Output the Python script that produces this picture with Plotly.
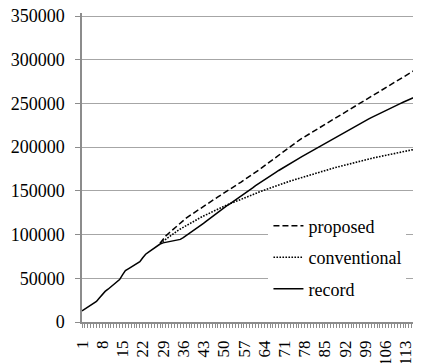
import plotly.graph_objects as go

# categories 1..118
categories = list(range(1, 119))

record = [
    12600, 14800, 17000, 19200, 21300, 23500, 27500, 31500, 35000, 37500,
    40000, 42500, 45000, 48500, 54000, 58700, 60700, 62700, 64700, 66800,
    69000, 73500, 77500, 80000, 82500, 85000, 87200, 89200, 90500, 91200,
    91800, 92400, 93000, 93700, 94500, 96500, 98700, 101000, 103300, 105600,
    107800, 110200, 112800, 115400, 118000, 120600, 123200, 125800, 128300, 130500,
    132700, 134900, 137100, 139300, 141500, 143800, 146200, 148600, 151000, 153500,
    156000, 158300, 160500, 162700, 164900, 167000, 169100, 171200, 173300, 175400,
    177500, 179500, 181500, 183400, 185300, 187200, 189100, 191000, 192900, 194800,
    196700, 198600, 200500, 202400, 204300, 206200, 208100, 210000, 211900, 213800,
    215700, 217600, 219500, 221300, 223100, 224900, 226700, 228500, 230300, 232000,
    233700, 235400, 237100, 238800, 240400, 242000, 243600, 245200, 246800, 248300,
    249800, 251300, 252800, 254300, 255800, 257200, 258600, 260000,
]

# proposed / conventional start at category 28
branch_categories = list(range(28, 119))

proposed = [
    90000, 95000, 98500, 101500, 104500, 107500, 110500, 113500, 116500, 118800,
    121100, 123400, 125700, 128000, 130300, 132500, 134600, 136700, 138800, 140900,
    143000, 145000, 147000, 149000, 151300, 153600, 155900, 158000, 160100, 162200,
    164400, 166700, 169000, 171300, 173600, 176000, 178500, 181000, 183500, 186000,
    188500, 191000, 193500, 196000, 198500, 201000, 203500, 205700, 207800, 209900,
    212000, 214000, 216000, 218000, 220000, 222000, 224000, 226000, 228000, 230000,
    232000, 234000, 236000, 238000, 240000, 242000, 244000, 246000, 248000, 250000,
    252000, 254000, 256000, 258000, 260000, 262000, 264000, 266000, 268000, 270000,
    272000, 274000, 276000, 278000, 280000, 282000, 284000, 286000, 288000, 290000,
    292000,
]

conventional = [
    90000, 92500, 95000, 97400, 99800, 102100, 104300, 106400, 108400, 110400,
    112300, 114200, 116000, 117800, 119500, 121200, 122900, 124500, 126100, 127700,
    129200, 130700, 132200, 133700, 135100, 136500, 137900, 139300, 140600, 141900,
    143200, 144500, 145800, 147050, 148300, 149550, 150800, 152000, 153200, 154400,
    155600, 156800, 158000, 159100, 160150, 161200, 162250, 163300, 164350, 165400,
    166450, 167450, 168450, 169450, 170400, 171350, 172300, 173250, 174200, 175150,
    176100, 177000, 177900, 178800, 179700, 180550, 181400, 182250, 183100, 183900,
    184700, 185500, 186300, 187100, 187850, 188600, 189350, 190100, 190800, 191500,
    192200, 192900, 193600, 194250, 194900, 195550, 196200, 196850, 197500, 198100,
    198700,
]

x_tick_labels = [1, 8, 15, 22, 29, 36, 43, 50, 57, 64, 71, 78, 85, 92, 99, 106, 113]
y_tick_values = [0, 50000, 100000, 150000, 200000, 250000, 300000, 350000]

FONT = "Liberation Serif"
GRID = "#a6a6a6"
AXIS = "#8c8c8c"

fig = go.Figure()
fig.add_trace(go.Scatter(x=branch_categories, y=proposed, mode="lines", name="proposed",
                         legendgroup="a", legendrank=1,
                         line=dict(color="black", width=1.5, dash="6px,3px")))
fig.add_trace(go.Scatter(x=branch_categories, y=conventional, mode="lines", name="conventional",
                         legendgroup="b", legendrank=2,
                         line=dict(color="black", width=1.6, dash="1.6px,1.4px")))
fig.add_trace(go.Scatter(x=categories, y=record, mode="lines", name="record",
                         legendgroup="c", legendrank=3,
                         line=dict(color="black", width=1.5)))

# the page body adds an 8px offset, so the figure is 8px smaller and margins compensate;
# the y range is a little taller than 350000 so the top gridline is kept by plotly
fig.update_layout(
    width=413, height=355,
    margin=dict(l=74, r=0, t=5, b=41),
    paper_bgcolor="white", plot_bgcolor="white",
    font=dict(family=FONT, size=18, color="black"),
    showlegend=True,
    legend=dict(x=0.55, y=0.37, xanchor="left", yanchor="top",
                bgcolor="white", borderwidth=0,
                font=dict(family=FONT, size=18, color="black"),
                traceorder="grouped", tracegroupgap=5),
)
fig.update_xaxes(
    automargin=False,
    range=[1, 118.2],
    tickmode="array", tickvals=x_tick_labels, ticktext=[str(v) for v in x_tick_labels],
    tickangle=-90, ticks="outside", ticklen=4, tickcolor=AXIS, tickwidth=1,
    ticklabelstandoff=6, ticklabeloverflow="allow",
    showline=True, linecolor=AXIS, linewidth=1.5,
    showgrid=False, zeroline=False,
    minor=dict(tickmode="linear", tick0=1, dtick=1, ticks="outside", ticklen=4,
               tickcolor=AXIS, tickwidth=1, showgrid=False),
    tickfont=dict(family=FONT, size=17, color="black"),
)
fig.update_yaxes(
    automargin=False,
    range=[0, 353431],
    tickmode="array", tickvals=y_tick_values, ticktext=[str(v) for v in y_tick_values],
    ticks="outside", ticklen=5, tickcolor=AXIS, tickwidth=1.3,
    ticklabelstandoff=7, ticklabeloverflow="allow",
    showline=True, linecolor=AXIS, linewidth=1.5,
    showgrid=True, gridcolor=GRID, gridwidth=1.3,
    zeroline=False,
    tickfont=dict(family=FONT, size=18, color="black"),
)

fig.write_html("out.html")
